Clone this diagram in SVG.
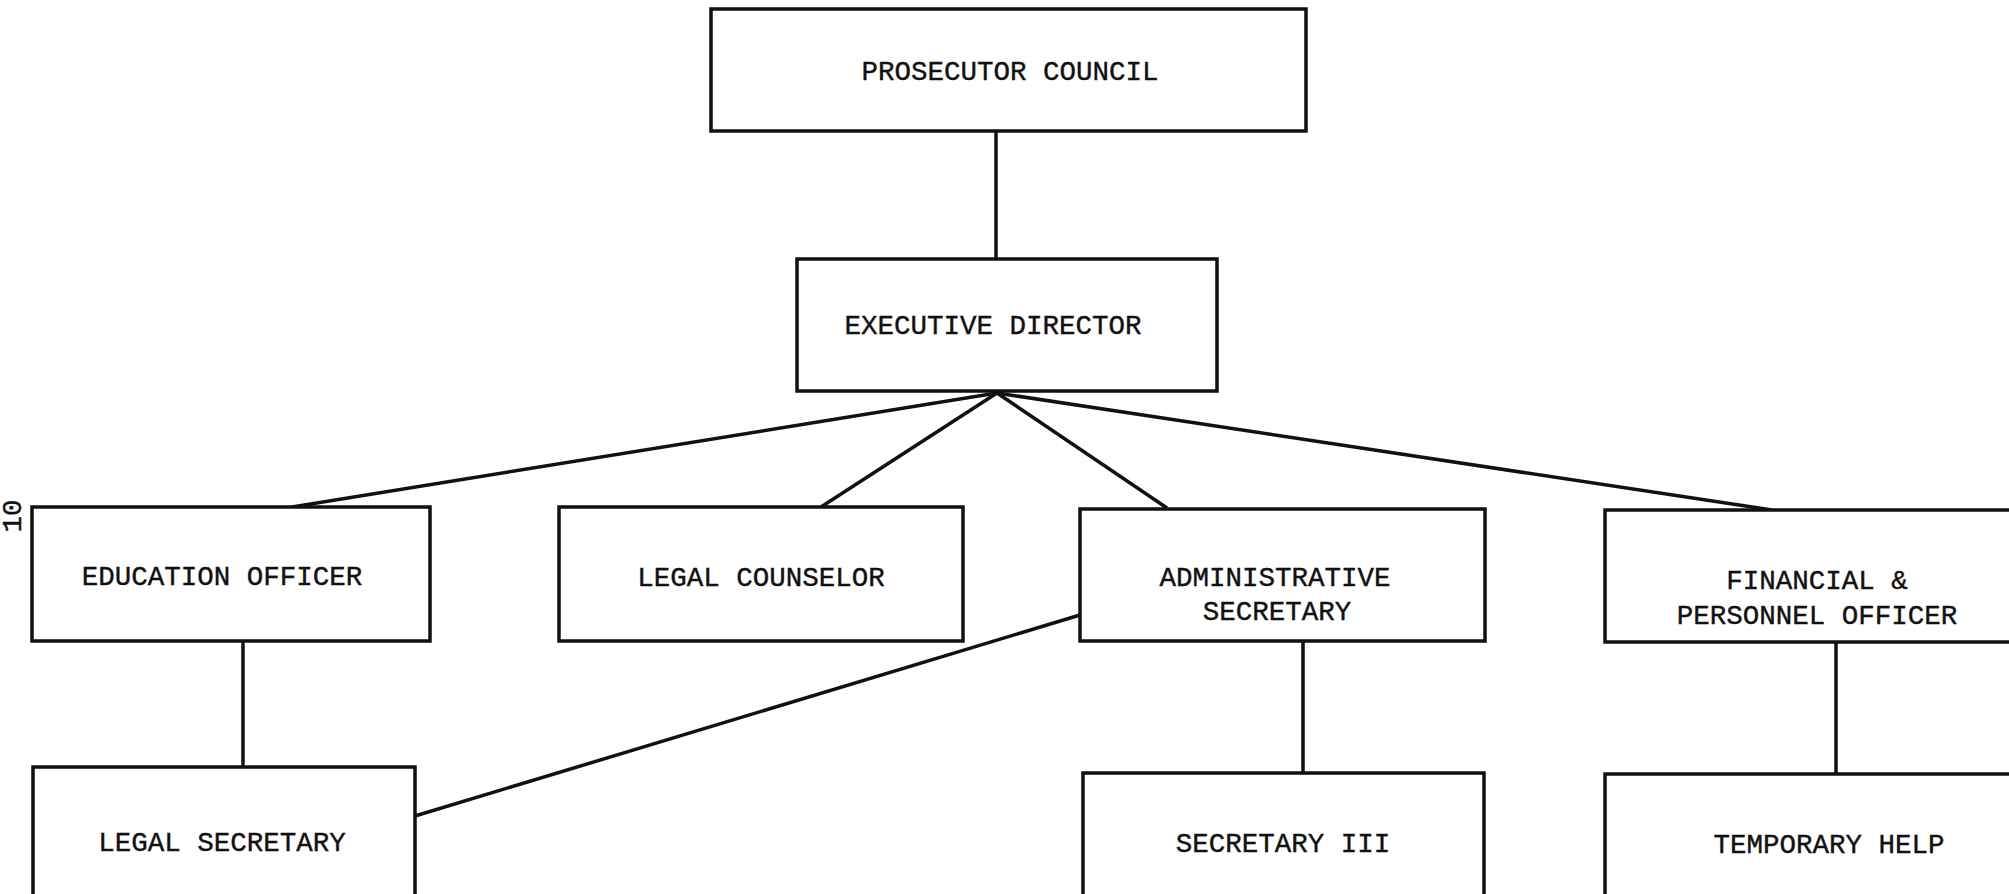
<svg xmlns="http://www.w3.org/2000/svg" width="2009" height="894" viewBox="0 0 2009 894">
<style>
.box{fill:#fff;stroke:#111;stroke-width:3.5}
.lbl{font-family:"Liberation Mono","DejaVu Sans Mono",monospace;font-size:27.5px;fill:#111;stroke:#111;stroke-width:0.4;text-anchor:middle;dominant-baseline:middle}
.con{stroke:#111;stroke-width:3.5;fill:none}
</style>
<rect width="2009" height="894" fill="#fff"/>
<g id="connectors">
<line class="con" x1="996" y1="131" x2="996" y2="259"/>
<line class="con" x1="997" y1="393" x2="292" y2="507"/>
<line class="con" x1="997" y1="393" x2="821" y2="507"/>
<line class="con" x1="997" y1="393" x2="1167" y2="508"/>
<line class="con" x1="997" y1="393" x2="1772" y2="510"/>
<line class="con" x1="243" y1="641" x2="243" y2="767"/>
<line class="con" x1="1080" y1="615" x2="415" y2="816"/>
<line class="con" x1="1303" y1="641" x2="1303" y2="773"/>
<line class="con" x1="1836" y1="642" x2="1836" y2="774"/>
</g>
<g id="prosecutor-council">
<rect class="box" x="711" y="9" width="595" height="122"/>
<text class="lbl" x="1010" y="73">PROSECUTOR COUNCIL</text>
</g>
<g id="executive-director">
<rect class="box" x="797" y="259" width="420" height="132"/>
<text class="lbl" x="993" y="327">EXECUTIVE DIRECTOR</text>
</g>
<g id="education-officer">
<rect class="box" x="32" y="507" width="398" height="134"/>
<text class="lbl" x="222" y="578">EDUCATION OFFICER</text>
</g>
<g id="legal-counselor">
<rect class="box" x="559" y="507" width="404" height="134"/>
<text class="lbl" x="761" y="579">LEGAL COUNSELOR</text>
</g>
<g id="administrative-secretary">
<rect class="box" x="1080" y="509" width="405" height="132"/>
<text class="lbl" x="1275" y="579">ADMINISTRATIVE</text>
<text class="lbl" x="1277" y="613">SECRETARY</text>
</g>
<g id="financial-personnel-officer">
<rect class="box" x="1605" y="510" width="420" height="132"/>
<text class="lbl" x="1817" y="582">FINANCIAL &amp;</text>
<text class="lbl" x="1817" y="617">PERSONNEL OFFICER</text>
</g>
<g id="legal-secretary">
<rect class="box" x="33" y="767" width="382" height="140"/>
<text class="lbl" x="222" y="844">LEGAL SECRETARY</text>
</g>
<g id="secretary-iii">
<rect class="box" x="1083" y="773" width="401" height="140"/>
<text class="lbl" x="1283" y="845">SECRETARY III</text>
</g>
<g id="temporary-help">
<rect class="box" x="1605" y="774" width="420" height="140"/>
<text class="lbl" x="1829" y="846">TEMPORARY HELP</text>
</g>
<text class="lbl" x="0" y="0" transform="translate(14,516) rotate(-90)" font-size="20">10</text>
</svg>
